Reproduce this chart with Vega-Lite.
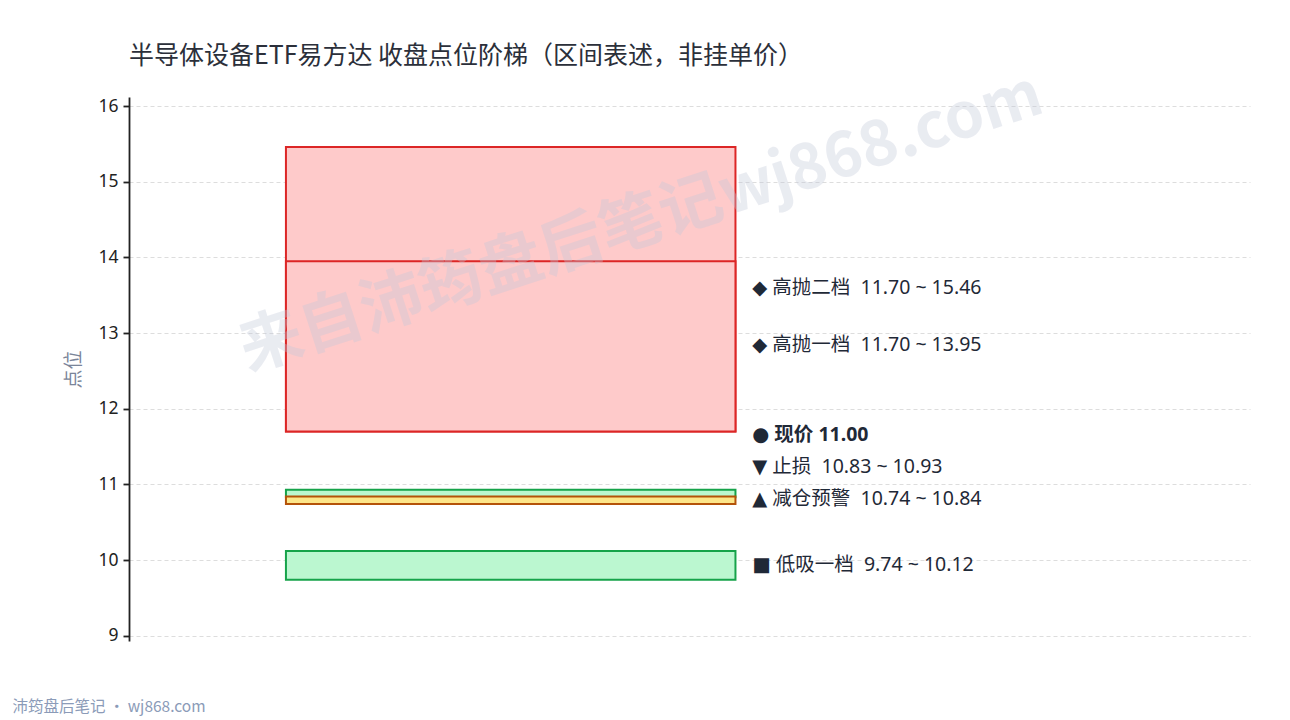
{
  "$schema": "https://vega.github.io/schema/vega-lite/v6.json",
  "autosize": {"type": "none"},
  "padding": {"left": 129, "top": 97, "right": 40, "bottom": 79},
  "width": 1121,
  "height": 544,
  "background": "white",
  "config": {
    "view": {"stroke": null},
    "font": "Noto Sans, Noto Sans CJK SC"
  },
  "title": {
    "text": "半导体设备ETF易方达 收盘点位阶梯（区间表述，非挂单价）",
    "anchor": "start",
    "frame": "group",
    "offset": -5,
    "fontSize": 25,
    "fontWeight": "normal",
    "color": "#2b2f3a",
    "font": "Noto Sans CJK SC"
  },
  "datasets": {
    "zones": [
      {"kind": "high", "name": "高抛二档", "lo": 11.70, "hi": 15.46, "label": "◆ 高抛二档  11.70 ~ 15.46", "label_y": 13.6},
      {"kind": "high", "name": "高抛一档", "lo": 11.70, "hi": 13.95, "label": "◆ 高抛一档  11.70 ~ 13.95", "label_y": 12.84},
      {"kind": "price", "name": "现价", "lo": null, "hi": null, "label": "● 现价 11.00", "label_y": 11.65},
      {"kind": "stop", "name": "止损", "lo": 10.83, "hi": 10.93, "label": "▼ 止损  10.83 ~ 10.93", "label_y": 11.23},
      {"kind": "warn", "name": "减仓预警", "lo": 10.74, "hi": 10.84, "label": "▲ 减仓预警  10.74 ~ 10.84", "label_y": 10.81},
      {"kind": "low", "name": "低吸一档", "lo": 9.74, "hi": 10.12, "label": "■ 低吸一档  9.74 ~ 10.12", "label_y": 9.94}
    ],
    "marks": [
      {"role": "watermark", "text": "来自沛筠盘后笔记wj868.com"},
      {"role": "footer", "text": "沛筠盘后笔记 · wj868.com"}
    ]
  },
  "layer": [
    {
      "data": {"name": "zones"},
      "transform": [{"filter": "datum.lo != null"}],
      "mark": {"type": "rect", "strokeWidth": 2},
      "encoding": {
        "x": {"datum": 0.14, "type": "quantitative", "scale": {"domain": [0, 1], "nice": false, "zero": false}, "axis": null},
        "x2": {"datum": 0.541},
        "y": {
          "field": "lo", "type": "quantitative",
          "scale": {"domain": [8.93, 16.12], "nice": false, "zero": false},
          "axis": {
            "title": "点位",
            "titleFont": "Noto Sans CJK SC",
            "titleFontSize": 19,
            "titleFontWeight": "normal",
            "titleColor": "#7a8599",
            "titlePadding": 14,
            "values": [9, 10, 11, 12, 13, 14, 15, 16],
            "format": "d",
            "labelFontSize": 17.5,
            "labelColor": "#222222",
            "labelPadding": 5,
            "domainColor": "#222222",
            "domainWidth": 1.8,
            "tickColor": "#222222",
            "tickWidth": 1.8,
            "tickSize": 6,
            "grid": true,
            "gridColor": "#dddddd",
            "gridDash": [4, 3],
            "gridWidth": 1
          }
        },
        "y2": {"field": "hi"},
        "fill": {
          "field": "kind", "type": "nominal", "legend": null,
          "scale": {"domain": ["high", "stop", "warn", "low"], "range": ["#fecaca", "#bbf7d0", "#fde68a", "#bbf7d0"]}
        },
        "stroke": {
          "field": "kind", "type": "nominal", "legend": null,
          "scale": {"domain": ["high", "stop", "warn", "low"], "range": ["#dc2626", "#16a34a", "#b45309", "#16a34a"]}
        }
      }
    },
    {
      "mark": {"type": "rule", "color": "#333a45", "strokeWidth": 2, "strokeDash": [9, 5]},
      "encoding": {"y": {"datum": 11}}
    },
    {
      "data": {"name": "zones"},
      "transform": [
        {"filter": "datum.kind !== 'price'"},
        {"calculate": "replace(datum.label, /  /g, '\u00a0\u00a0')", "as": "label_nb"}
      ],
      "mark": {"type": "text", "align": "left", "baseline": "middle", "fontSize": 19.5, "color": "#1f2937", "font": "Noto Sans, DejaVu Sans, Noto Sans CJK SC"},
      "encoding": {
        "x": {"datum": 0.556},
        "y": {"field": "label_y", "type": "quantitative"},
        "text": {"field": "label_nb"}
      }
    },
    {
      "data": {"name": "zones"},
      "transform": [{"filter": "datum.kind === 'price'"}],
      "mark": {"type": "text", "align": "left", "baseline": "middle", "fontSize": 19.5, "fontWeight": "bold", "color": "#1f2937", "font": "Noto Sans, DejaVu Sans, Noto Sans CJK SC"},
      "encoding": {
        "x": {"datum": 0.556},
        "y": {"field": "label_y", "type": "quantitative"},
        "text": {"field": "label"}
      }
    },
    {
      "data": {"name": "marks"},
      "transform": [{"filter": "datum.role === 'watermark'"}],
      "mark": {"type": "text", "align": "center", "baseline": "middle", "angle": -18, "fontSize": 63, "fontWeight": "bold", "color": "#c3c9da", "opacity": 0.35, "font": "Noto Sans CJK SC"},
      "encoding": {
        "x": {"datum": 0.457},
        "y": {"datum": 14.45},
        "text": {"field": "text"}
      }
    },
    {
      "data": {"name": "marks"},
      "transform": [{"filter": "datum.role === 'footer'"}],
      "mark": {"type": "text", "align": "left", "baseline": "middle", "fontSize": 15.5, "color": "#8b9bb8", "font": "Noto Sans CJK SC"},
      "encoding": {
        "x": {"datum": -0.104},
        "y": {"datum": 8.06},
        "text": {"field": "text"}
      }
    }
  ]
}
